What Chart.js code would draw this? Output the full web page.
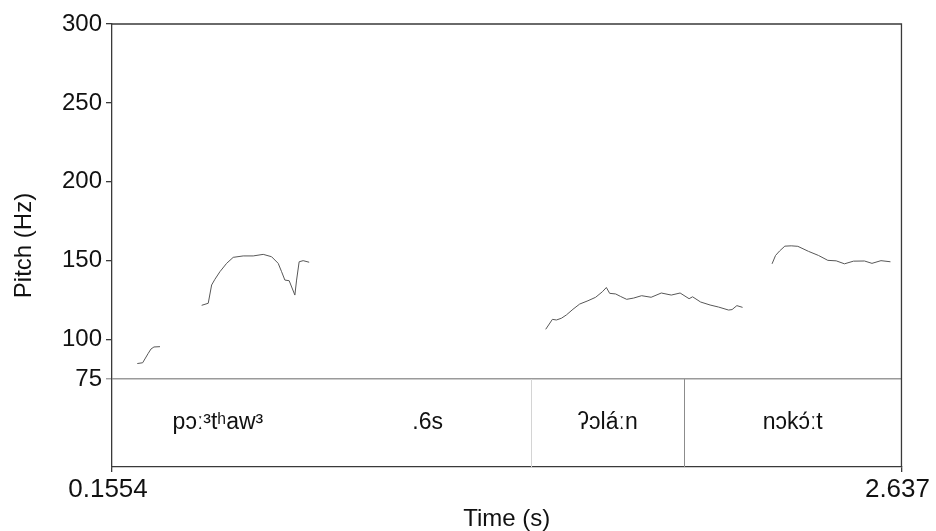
<!DOCTYPE html>
<html>
<head>
<meta charset="utf-8">
<script src="https://cdn.jsdelivr.net/npm/chart.js@4.4.1/dist/chart.umd.min.js"></script>
<style>
  html, body { margin: 0; padding: 0; background: #ffffff; }
  #wrap { width: 936px; height: 531px; }
</style>
</head>
<body>
<div id="wrap"><canvas id="pitch"></canvas></div>
<script>
// Pitch contour, one voiced stretch per array pair (time in s, F0 in Hz)
const seg1Time = [0.2349, 0.2518, 0.2606, 0.2694, 0.2779, 0.2873, 0.3062];
const seg1Hz   = [84.8, 85.3, 88.3, 91.3, 94.0, 95.3, 95.5];

const seg2Time = [0.4372, 0.4579, 0.4686, 0.4789, 0.4946, 0.5157, 0.5364, 0.5678, 0.5993, 0.6307,
                  0.6570, 0.6778, 0.6885, 0.6988, 0.7123, 0.7302, 0.7356, 0.7437, 0.7563, 0.7752];
const seg2Hz   = [121.7, 123.0, 134.6, 138.2, 143.0, 148.3, 152.1, 153.0, 153.0, 154.0,
                  152.5, 148.3, 143.0, 137.7, 137.3, 128.2, 137.7, 149.3, 150.0, 149.0];

const seg3Time = [1.5187, 1.5397, 1.5523, 1.5680, 1.5837, 1.6044, 1.6255, 1.6516, 1.6757, 1.6968,
                  1.7094, 1.7197, 1.7386, 1.7543, 1.7731, 1.7951, 1.8202, 1.8501, 1.8821, 1.9135,
                  1.9412, 1.9694, 1.9804, 2.0056, 2.0354, 2.0621, 2.0935, 2.1045, 2.1196, 2.1375];
const seg3Hz   = [106.5, 112.8, 112.4, 113.5, 115.6, 119.2, 122.5, 124.6, 126.8, 130.3,
                  133.0, 129.3, 128.9, 127.3, 125.5, 126.3, 127.8, 126.8, 129.5, 128.2,
                  129.5, 125.9, 127.1, 123.8, 121.9, 120.6, 118.7, 119.0, 121.5, 120.4];

const seg4Time = [2.2302, 2.2412, 2.2537, 2.2704, 2.2905, 2.3112, 2.3448, 2.3762, 2.4055, 2.4318,
                  2.4579, 2.4862, 2.5207, 2.5443, 2.5726, 2.6024];
const seg4Hz   = [148.0, 153.3, 156.1, 159.2, 159.4, 159.1, 155.9, 153.3, 150.2, 149.9,
                  148.0, 149.7, 149.8, 148.3, 150.0, 149.3];

// Axis ranges and ticks
const timeStart = 0.1554;
const timeEnd = 2.637;
const xTickValues = [0.1554, 2.637];
const xTickLabels = ['0.1554', '2.637'];
const yTickValues = [75, 100, 150, 200, 250, 300];
const pitchFloor = 75;
const pitchTop = 300;
const tierBottom = 19.23;   // value at the foot of the text tier strip

// Text tier underneath the contour
const tierEdges = [0.1554, 0.8213, 1.4738, 1.9531, 2.637];
const tierEdgeColors = [null, null, '#d4d4d4', '#8c8c8c', null];
const tierLabels = ['pɔː³tʰaw³', '.6s', 'ʔɔláːn', 'nɔkɔ́ːt'];

const toPoints = (ts, hz) => ts.map((t, i) => ({ x: t, y: hz[i] }));
const lineStyle = {
  borderColor: '#575757',
  borderWidth: 1,
  pointRadius: 0,
  pointHoverRadius: 0,
  tension: 0,
  fill: false
};

const AXIS = '#3a3a3a';
const FONT = "'Liberation Sans', Arial, 'DejaVu Sans', sans-serif";

const framePlugin = {
  id: 'frame',
  afterDraw(chart) {
    const { ctx, chartArea: a, scales: { x, y } } = chart;
    ctx.save();
    // top and right edges of the frame
    ctx.strokeStyle = AXIS;
    ctx.lineWidth = 1.3;
    ctx.beginPath();
    ctx.moveTo(a.left, a.top);
    ctx.lineTo(a.right, a.top);
    ctx.lineTo(a.right, a.bottom);
    ctx.stroke();

    // tier boundaries
    const yTop = y.getPixelForValue(pitchFloor);
    const yBot = y.getPixelForValue(tierBottom);
    tierEdges.forEach((t, i) => {
      const col = tierEdgeColors[i];
      if (!col) return;
      const px = Math.round(x.getPixelForValue(t)) + 0.5;
      ctx.strokeStyle = col;
      ctx.lineWidth = 1;
      ctx.beginPath();
      ctx.moveTo(px, yTop);
      ctx.lineTo(px, yBot);
      ctx.stroke();
    });

    // tier labels, centred in their intervals
    ctx.fillStyle = '#111';
    ctx.font = "23px " + FONT;
    ctx.textAlign = 'center';
    ctx.textBaseline = 'middle';
    const midY = (yTop + yBot) / 2;
    tierLabels.forEach((txt, i) => {
      const cx = (x.getPixelForValue(tierEdges[i]) + x.getPixelForValue(tierEdges[i + 1])) / 2;
      ctx.fillText(txt, cx, midY);
    });
    ctx.restore();
  }
};

new Chart(document.getElementById('pitch'), {
  type: 'line',
  data: {
    datasets: [
      { data: toPoints(seg1Time, seg1Hz), ...lineStyle },
      { data: toPoints(seg2Time, seg2Hz), ...lineStyle },
      { data: toPoints(seg3Time, seg3Hz), ...lineStyle },
      { data: toPoints(seg4Time, seg4Hz), ...lineStyle }
    ]
  },
  options: {
    responsive: true,
    maintainAspectRatio: false,
    animation: false,
    devicePixelRatio: 1,
    layout: { padding: { top: 24, right: 34, left: 0, bottom: 0 } },
    plugins: { legend: { display: false }, tooltip: { enabled: false } },
    scales: {
      x: {
        type: 'linear',
        min: timeStart,
        max: timeEnd,
        afterBuildTicks: s => { s.ticks = xTickValues.map(v => ({ value: v })); },
        afterFit: s => { s.height = 64; },
        ticks: {
          autoSkip: false,
          maxRotation: 0,
          padding: 2,
          labelOffset: -4,
          color: '#111',
          font: { family: FONT, size: 26 },
          callback: (v, i) => xTickLabels[i]
        },
        grid: { drawOnChartArea: false, tickLength: 5, color: AXIS, lineWidth: 1.3 },
        border: { color: AXIS, width: 1.3 },
        title: {
          display: true,
          text: 'Time (s)',
          color: '#111',
          font: { family: FONT, size: 24, lineHeight: 1 },
          padding: { top: 0, bottom: 0 }
        }
      },
      y: {
        type: 'linear',
        min: tierBottom,
        max: pitchTop,
        afterBuildTicks: s => { s.ticks = yTickValues.map(v => ({ value: v })); },
        afterFit: s => { s.width = 112; },
        ticks: {
          padding: 4,
          color: '#111',
          font: { family: FONT, size: 24 },
          callback: v => String(v)
        },
        grid: {
          drawOnChartArea: true,
          tickLength: 6,
          color: c => (c.tick && c.tick.value === pitchFloor) ? '#9a9a9a' : 'rgba(0,0,0,0)',
          tickColor: c => (c.tick && c.tick.value === pitchFloor) ? '#9a9a9a' : AXIS,
          lineWidth: c => (c.tick && c.tick.value === pitchFloor) ? 1.5 : 1.3,
          tickWidth: 1.3
        },
        border: { color: AXIS, width: 1.3 },
        title: {
          display: true,
          text: 'Pitch (Hz)',
          color: '#111',
          font: { family: FONT, size: 24 },
          padding: { top: 10, bottom: 0 }
        }
      }
    }
  },
  plugins: [framePlugin]
});
</script>
</body>
</html>
